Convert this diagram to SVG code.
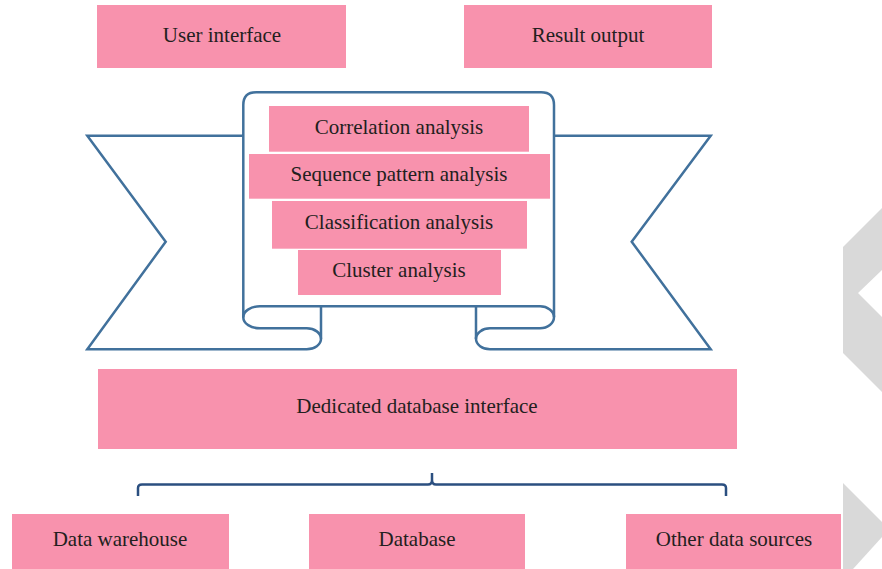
<svg xmlns="http://www.w3.org/2000/svg" width="882" height="569" viewBox="0 0 882 569">
  <style>
    .box { fill: #F892AD; }
    .lbl { font-family: "Liberation Serif", "Times New Roman", serif; font-size: 21px; fill: #231F20; text-anchor: middle; }
    .outline { fill: none; stroke: #41719C; stroke-width: 2.5; stroke-linejoin: miter; }
    .brace { fill: none; stroke: #2B4F80; stroke-width: 2.5; }
    .deco { fill: #D9D9D9; }
  </style>
  <rect width="882" height="569" fill="#FFFFFF"/>

  <!-- decorative grey chevrons at the right edge -->
  <polygon class="deco" points="882,208 843,247 843,353 882,392 882,317 858,293 882,270"/>
  <polygon class="deco" points="843,483 882,522 882,537 853,569 843,569"/>

  <!-- ribbon with scroll banner -->
  <g id="banner">
    <path class="outline" d="M243.3,135.7 H87.3 L165.7,241.7 L87.3,349.3 H306.7 A14.3,10.5 0 0 0 306.7,328.3 H260 A16.7,10.8 0 0 1 243.3,317.5 V105 Q243.3,92.3 256,92.3 H541 Q554,92.3 554,105 V317 A14,11.3 0 0 1 540,328.3 H490 A14,10.5 0 0 0 490,349.3 H710.7 L631.7,241.7 L710.7,135.7 H554"/>
    <path class="outline" d="M243.3,317.5 A16.7,10.8 0 0 1 260,306.3 H540 A14,11 0 0 1 554,317"/>
    <path class="outline" d="M321,306.3 V338.8 M476,306.3 V339"/>
  </g>

  <g id="user-interface">
    <rect class="box" x="97" y="5" width="249" height="63"/>
    <text class="lbl" x="222" y="42">User interface</text>
  </g>
  <g id="result-output">
    <rect class="box" x="464" y="5" width="248" height="63"/>
    <text class="lbl" x="588" y="42">Result output</text>
  </g>
  <g id="correlation-analysis">
    <rect class="box" x="269" y="106" width="260" height="45.7"/>
    <text class="lbl" x="399" y="134">Correlation analysis</text>
  </g>
  <g id="sequence-pattern-analysis">
    <rect class="box" x="249" y="154" width="301" height="44.7"/>
    <text class="lbl" x="399" y="181">Sequence pattern analysis</text>
  </g>
  <g id="classification-analysis">
    <rect class="box" x="272" y="201" width="255" height="47.7"/>
    <text class="lbl" x="399" y="229">Classification analysis</text>
  </g>
  <g id="cluster-analysis">
    <rect class="box" x="298" y="250" width="203" height="45"/>
    <text class="lbl" x="399" y="277">Cluster analysis</text>
  </g>
  <g id="dedicated-database-interface">
    <rect class="box" x="98" y="369" width="639" height="80"/>
    <text class="lbl" x="417" y="413">Dedicated database interface</text>
  </g>
  <g id="data-warehouse">
    <rect class="box" x="12" y="514" width="217" height="55"/>
    <text class="lbl" x="120" y="546">Data warehouse</text>
  </g>
  <g id="database">
    <rect class="box" x="309" y="514" width="216" height="55"/>
    <text class="lbl" x="417" y="546">Database</text>
  </g>
  <g id="other-data-sources">
    <rect class="box" x="626" y="514" width="215" height="55"/>
    <text class="lbl" x="734" y="546">Other data sources</text>
  </g>

  <g id="connectors">
    <path class="brace" d="M138,496 V488 Q138,484.5 142,484.5 H428 Q432,484.5 432,480 V473 M432,480 Q432,484.5 436,484.5 H722 Q726,484.5 726,488 V496"/>
  </g>
</svg>
